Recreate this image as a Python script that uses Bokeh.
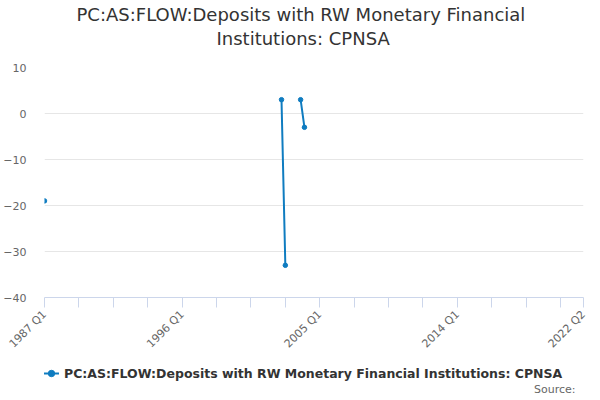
import math
from bokeh.plotting import figure
from bokeh.layouts import column
from bokeh.models import (Range1d, FixedTicker, Title, Legend, LegendItem,
                          Label, ColumnDataSource)
from bokeh.embed import file_html
from bokeh.resources import INLINE

# quarterly categories 1987 Q1 .. 2022 Q2
quarters = [f"{y} Q{q}" for y in range(1987, 2023) for q in range(1, 5)][:142]

# observed values (everything else is missing)
obs_quarters = ["1987 Q1", "2002 Q3", "2002 Q4", "2003 Q4", "2004 Q1"]
obs_values = [-19, 3, -33, 3, -3]

labelled_quarters = ["1987 Q1", "1996 Q1", "2005 Q1", "2014 Q1", "2022 Q2"]
y_ticks = [10, 0, -10, -20, -30, -40]

series_name = "PC:AS:FLOW:Deposits with RW Monetary Financial Institutions: CPNSA"
title_lines = ["PC:AS:FLOW:Deposits with RW Monetary Financial",
               "Institutions: CPNSA"]

values = [float("nan")] * len(quarters)
for q, v in zip(obs_quarters, obs_values):
    values[quarters.index(q)] = v

src = ColumnDataSource(dict(x=list(range(len(quarters))), y=values))

FONT = "DejaVu Sans"
BLUE = "#0f7cc0"

p = figure(frame_width=539, frame_height=230, output_backend="svg",
           toolbar_location=None,
           x_range=Range1d(0, len(quarters) - 1), y_range=Range1d(-40, 10),
           min_border_left=36, min_border_right=9, min_border_top=0,
           min_border_bottom=56)
p.title = None
p.outline_line_color = None

# blank spacer between the title and the plot area, then the two title lines
p.add_layout(Title(text=" ", text_font=FONT, text_font_size="13px",
                   standoff=2), "above")
p.add_layout(Title(text=title_lines[1], align="left", offset=172,
                   text_font=FONT, text_font_size="18px",
                   text_font_style="normal", text_color="#333333",
                   standoff=0), "above")
p.add_layout(Title(text=title_lines[0], align="left", offset=32,
                   text_font=FONT, text_font_size="18px",
                   text_font_style="normal", text_color="#333333",
                   standoff=2), "above")

# x axis: ticks every 9 quarters, labels every 9 years plus the last one
tick_pos = list(range(0, len(quarters), 9)) + [len(quarters) - 1]
p.xaxis.ticker = FixedTicker(ticks=tick_pos)
p.xaxis.major_label_overrides = {
    i: (quarters[i] if quarters[i] in labelled_quarters else "") for i in tick_pos}
p.xaxis.major_label_orientation = math.pi / 4
p.xaxis.axis_line_color = "#ccd6eb"
p.xaxis.major_tick_line_color = "#ccd6eb"
p.xaxis.major_tick_out = 10
p.xaxis.major_tick_in = 0
p.xaxis.minor_tick_line_color = None
p.xaxis.major_label_text_font = FONT
p.xaxis.major_label_text_font_size = "11px"
p.xaxis.major_label_text_color = "#666666"
p.xgrid.grid_line_color = None

# y axis
p.yaxis.ticker = FixedTicker(ticks=y_ticks)
p.yaxis.axis_line_color = None
p.yaxis.major_tick_line_color = None
p.yaxis.minor_tick_line_color = None
p.yaxis.major_label_standoff = 12
p.yaxis.major_label_text_font = FONT
p.yaxis.major_label_text_font_size = "11px"
p.yaxis.major_label_text_color = "#666666"
p.ygrid.grid_line_color = "#e6e6e6"

p.line("x", "y", source=src, line_color=BLUE, line_width=2)
p.scatter("x", "y", source=src, size=4.5, fill_color=BLUE, line_color=BLUE)

# strip under the chart holding the legend and the source note
# (its frame gets aligned with the chart's frame by the column)
leg = figure(width=584, height=37, output_backend="svg", toolbar_location=None,
             x_axis_type=None, y_axis_type=None,
             x_range=Range1d(0, 1), y_range=Range1d(0, 1),
             min_border=0)
leg.outline_line_color = None
leg.xgrid.grid_line_color = None
leg.ygrid.grid_line_color = None
ln = leg.line("x", "y", source=src, line_color=BLUE, line_width=2, visible=False)
pt = leg.scatter("x", "y", source=src, size=4.5, fill_color=BLUE,
                 line_color=BLUE, visible=False)

legend = Legend(items=[LegendItem(label=series_name, renderers=[ln, pt])],
                location=(-1, 12), orientation="horizontal",
                label_text_font=FONT, label_text_font_size="12.5px",
                label_text_font_style="bold", label_text_color="#333333",
                glyph_width=16, label_standoff=5, padding=0, margin=0,
                border_line_color=None, background_fill_alpha=0)
leg.add_layout(legend, "center")

leg.add_layout(Label(x=531, y=0, x_units="screen", y_units="screen",
                     text="Source:", text_font=FONT, text_font_size="11px",
                     text_color="#666666", text_align="right",
                     text_baseline="bottom", anchor="bottom_right"))

open("out.html", "w").write(file_html(column(p, leg, spacing=0), INLINE))
